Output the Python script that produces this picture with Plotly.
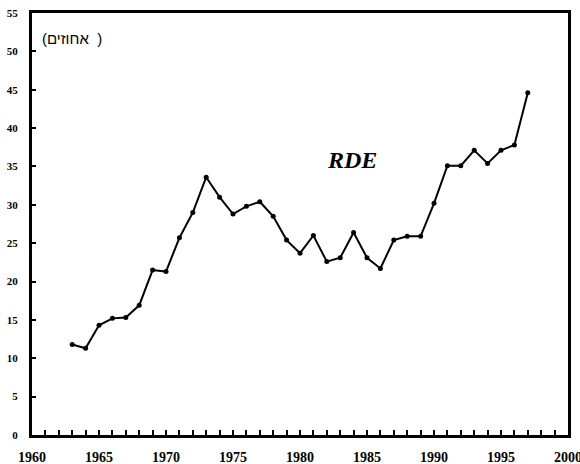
import plotly.graph_objects as go

years = list(range(1963, 1998))
values = [11.8, 11.3, 14.3, 15.2, 15.3, 16.9, 21.5, 21.3, 25.7, 29.0,
          33.6, 31.0, 28.8, 29.8, 30.4, 28.5, 25.4, 23.7, 26.0, 22.6,
          23.1, 26.4, 23.1, 21.7, 25.4, 25.9, 25.9, 30.2, 35.1, 35.1,
          37.1, 35.4, 37.1, 37.8, 44.6]

x_tickvals = list(range(1960, 2001))
x_ticktext = [str(y) if y % 5 == 0 else "" for y in x_tickvals]
y_tickvals = list(range(0, 56, 5))

fig = go.Figure()
fig.add_trace(go.Scatter(
    x=years, y=values, mode="lines+markers",
    line=dict(color="black", width=2),
    marker=dict(color="black", size=5),
    showlegend=False,
))

serif = "Liberation Serif, Times New Roman, serif"

fig.update_layout(
    width=580, height=464,
    margin=dict(l=32, r=12, t=13, b=29),
    paper_bgcolor="white", plot_bgcolor="white",
    font=dict(family=serif, size=12, color="black"),
    xaxis=dict(
        range=[1960, 2000], tickvals=x_tickvals, ticktext=[f"<b>{t}</b>" if t else "" for t in x_ticktext],
        ticks="inside", ticklen=5, tickwidth=2, tickcolor="black",
        showline=True, linecolor="black", linewidth=3, mirror=True,
        showgrid=False, zeroline=False, automargin=False,
        tickfont=dict(family=serif, size=14, color="black"), ticklabelstandoff=7,
        ticklabeloverflow="allow",
    ),
    yaxis=dict(
        range=[0, 55], tickvals=y_tickvals,
        ticktext=[f"<b>{v}</b>" for v in y_tickvals],
        ticks="inside", ticklen=4, tickwidth=2, tickcolor="black",
        showline=True, linecolor="black", linewidth=3, mirror=True,
        showgrid=False, zeroline=False, automargin=False,
        tickfont=dict(family=serif, size=11, color="black"), ticklabelstandoff=9,
    ),
    annotations=[
        dict(text="<b><i>RDE</i></b>", x=1983.9, y=35.8, xref="x", yref="y",
             showarrow=False, font=dict(family="Liberation Serif", size=24, color="black")),
        dict(text="(אחוזים  )", x=0.015, y=0.94, xref="paper", yref="paper",
             xanchor="left", yanchor="middle", showarrow=False,
             font=dict(family="Liberation Sans", size=15, color="black")),
    ],
)

fig.write_html("out.html", config={"displayModeBar": False},
               post_script="document.body.style.margin='0';document.body.style.overflow='hidden';")
